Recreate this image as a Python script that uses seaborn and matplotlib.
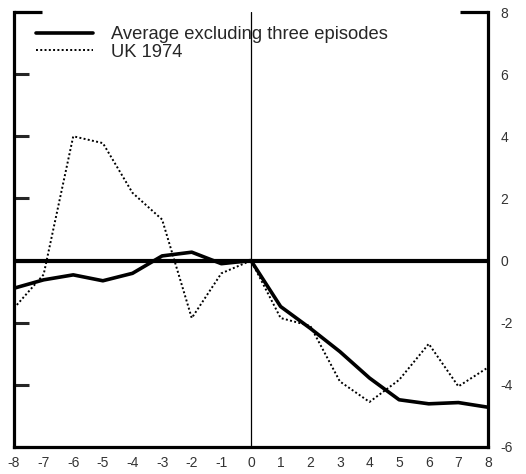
import pandas as pd
import matplotlib
matplotlib.use("Agg")
import matplotlib.pyplot as plt
import seaborn as sns

# quarters around the episode
quarters = list(range(-8, 9))
avg_excl = [-0.89, -0.62, -0.46, -0.65, -0.41, 0.15, 0.27, -0.10, 0.0,
            -1.48, -2.18, -2.93, -3.78, -4.48, -4.61, -4.57, -4.72]
uk_1974 = [-1.53, -0.45, 4.00, 3.78, 2.18, 1.32, -1.85, -0.41, 0.0,
           -1.85, -2.10, -3.89, -4.55, -3.84, -2.68, -4.05, -3.44]
y_ticks = [-6, -4, -2, 0, 2, 4, 6, 8]

df = pd.DataFrame({"quarter": quarters, "avg": avg_excl, "uk": uk_1974})

sns.set_style("white")
plt.rcParams["font.family"] = ["Liberation Sans", "DejaVu Sans"]

fig = plt.figure(figsize=(5.26, 4.74), dpi=100)
ax = fig.add_axes([14 / 526, 27 / 474, 474 / 526, 435 / 474])

ax.axhline(0, color="black", lw=3.0, zorder=1)
ax.axvline(0, color="black", lw=0.9, zorder=1)

sns.lineplot(data=df, x="quarter", y="avg", ax=ax, color="black", lw=2.6,
             label="Average excluding three episodes")
sns.lineplot(data=df, x="quarter", y="uk", ax=ax, color="black", lw=1.4,
             linestyle=(0, (1, 1.2)), label="UK 1974")

ax.set_xlim(-8, 8)
ax.set_ylim(-6, 8)
ax.set_xticks(quarters)
ax.set_yticks(y_ticks)
ax.set_xticklabels([str(q) for q in quarters])
ax.set_yticklabels([str(t) for t in y_ticks])
ax.set_xlabel("")
ax.set_ylabel("")

for side in ["left", "right", "bottom"]:
    ax.spines[side].set_color("black")
    ax.spines[side].set_linewidth(2.3)
ax.spines["top"].set_visible(False)

ax.tick_params(axis="y", left=True, right=False, labelleft=False, labelright=True,
               direction="in", length=11, width=2.2, pad=9, labelsize=10,
               labelcolor="#333333")
ax.tick_params(axis="x", bottom=False, pad=3, labelsize=10, labelcolor="#333333")

# longer corner ticks at the top of both axes
ax.hlines(8, -8, -7.05, color="black", lw=2.3, clip_on=False)
ax.hlines(8, 7.05, 8, color="black", lw=2.3, clip_on=False)

ax.legend(loc="upper left", bbox_to_anchor=(0.046, 0.968), frameon=False,
          fontsize=13.2, handlelength=3.1, handletextpad=1.0, labelspacing=0.05,
          borderpad=0, borderaxespad=0)

fig.savefig("out.png", dpi=100)
